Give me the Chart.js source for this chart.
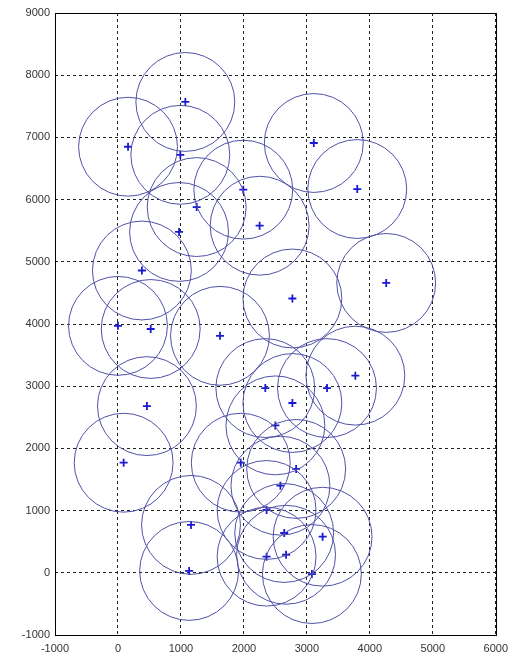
<!DOCTYPE html>
<html>
<head>
<meta charset="utf-8">
<script src="https://cdn.jsdelivr.net/npm/chart.js@4/dist/chart.umd.min.js"></script>
<style>
  html, body { margin: 0; padding: 0; background: #fff; }
</style>
</head>
<body>
<canvas id="chart" width="515" height="663"></canvas>
<script>
// Node positions (x, y) and the common coverage radius drawn around each one.
const nodeX = [1070, 160, 990, 1990, 1250, 3110, 3800, 2250, 970, 380,
               0, 520, 1620, 460, 2770, 4260, 3770, 2340, 3320, 2770,
               2500, 90, 1160, 1130, 1950, 2830, 2580, 2360, 2640, 3250,
               2360, 2670, 3080];
const nodeY = [7570, 6850, 6720, 6160, 5880, 6910, 6170, 5580, 5480, 4860,
               3970, 3920, 3810, 2680, 4410, 4660, 3170, 2970, 2970, 2730,
               2370, 1770, 770, 30, 1770, 1670, 1400, 1010, 640, 580,
               260, 290, -20];
const coverRadius = 790;

const xTicks = [-1000, 0, 1000, 2000, 3000, 4000, 5000, 6000];
const yTicks = [-1000, 0, 1000, 2000, 3000, 4000, 5000, 6000, 7000, 8000, 9000];

const nodes = nodeX.map((x, i) => ({ x: x, y: nodeY[i] }));

// Pixel radius of the coverage circle, taken from the axis scales.
function radiusPx(ctx) {
  const sx = ctx.chart.scales.x, sy = ctx.chart.scales.y;
  if (!sx || !sy) return 0;
  const rx = Math.abs(sx.getPixelForValue(coverRadius) - sx.getPixelForValue(0));
  const ry = Math.abs(sy.getPixelForValue(coverRadius) - sy.getPixelForValue(0));
  return (rx + ry) / 2;
}

// Solid box around the plotting area.
const frame = {
  id: 'frame',
  afterDraw(chart) {
    const a = chart.chartArea, c = chart.ctx;
    c.save();
    c.strokeStyle = '#000';
    c.lineWidth = 1;
    c.strokeRect(Math.round(a.left) + 0.5, Math.round(a.top) + 0.5,
                 Math.round(a.right - a.left), Math.round(a.bottom - a.top));
    c.restore();
  }
};

const tickFont = { family: '"Liberation Sans", Arial, sans-serif', size: 11 };

new Chart(document.getElementById('chart'), {
  type: 'scatter',
  data: {
    datasets: [
      {
        label: 'coverage',
        data: nodes,
        pointStyle: 'circle',
        pointRadius: radiusPx,
        pointHoverRadius: radiusPx,
        backgroundColor: 'rgba(0,0,0,0)',
        borderColor: '#5050a8',
        borderWidth: 1
      },
      {
        label: 'nodes',
        data: nodes,
        pointStyle: 'cross',
        pointRadius: 4,
        borderColor: '#1a1ad0',
        backgroundColor: '#1a1ad0',
        borderWidth: 1.8
      }
    ]
  },
  options: {
    responsive: false,
    animation: false,
    events: [],
    layout: { padding: { top: 13, right: 15, left: 0, bottom: 0 } },
    plugins: { legend: { display: false }, tooltip: { enabled: false } },
    scales: {
      x: {
        type: 'linear',
        min: xTicks[0],
        max: xTicks[xTicks.length - 1],
        afterBuildTicks: s => { s.ticks = xTicks.map(v => ({ value: v })); },
        afterFit: s => { s.height = 28; },
        grid: { color: '#222', drawTicks: false, lineWidth: 1 },
        border: { display: false, dash: [3, 3] },
        ticks: { color: '#333', font: tickFont, padding: 7, maxRotation: 0,
                 callback: v => String(v) }
      },
      y: {
        type: 'linear',
        min: yTicks[0],
        max: yTicks[yTicks.length - 1],
        afterBuildTicks: s => { s.ticks = yTicks.map(v => ({ value: v })); },
        afterFit: s => { s.width = 55; },
        grid: { color: '#222', drawTicks: false, lineWidth: 1 },
        border: { display: false, dash: [3, 3] },
        ticks: { color: '#333', font: tickFont, padding: 5,
                 callback: v => String(v) }
      }
    }
  },
  plugins: [frame]
});
</script>
</body>
</html>
